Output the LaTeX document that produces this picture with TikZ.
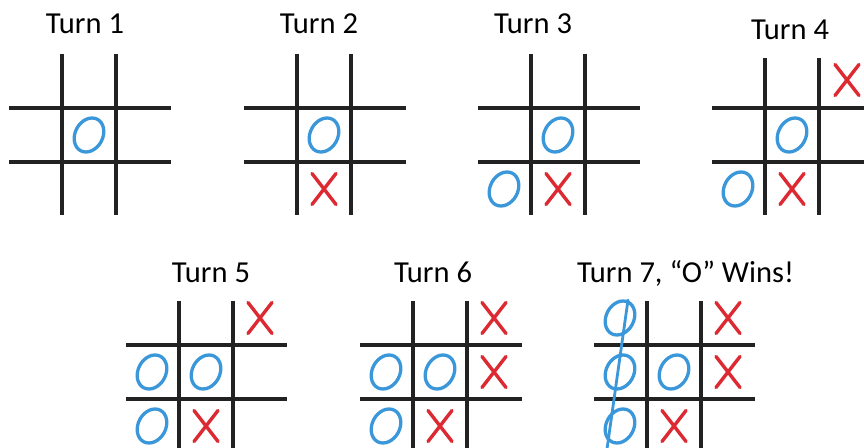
\documentclass[tikz,border=0pt]{standalone}
\usepackage{fontspec}
\setmainfont{Carlito}
\definecolor{oblue}{HTML}{3A97D9}
\definecolor{xred}{HTML}{DD2A32}
\definecolor{gridc}{HTML}{222222}
\tikzset{
  gridline/.style={draw=gridc, line width=3.2bp},
  omark/.style={draw=oblue, line width=3.3bp},
  xmark/.style={draw=xred, line width=3.4bp, line cap=round},
  winline/.style={draw=oblue, line width=2.8bp, line cap=round},
  title/.style={anchor=base, inner sep=0pt, font=\fontsize{30.5bp}{36bp}\selectfont, text=black},
}
% local cell centres: -27, 27, 81
\newcommand\tttO[2]{\draw[omark, shift={(#1,#2)}, xslant=0.18] (0,0) circle[x radius=14.5, y radius=17];}
\newcommand\tttX[2]{\draw[xmark] (#1-12,#2-15.5) -- (#1+12,#2+15.5) (#1-12,#2+15.5) -- (#1+12,#2-15.5);}
% grid: #1 top of vertical lines, #2 bottom of vertical lines, #3 right end of horizontals
\newcommand\tttGrid[3]{%
  \draw[gridline] (0,#1) -- (0,#2) (54,#1) -- (54,#2)
                  (-53,0) -- (#3,0) (-53,54) -- (#3,54);}
\begin{document}
\begin{tikzpicture}[x=1bp, y=-1bp]
\useasboundingbox (0,0) rectangle (864,448);
\fill[white] (0,0) rectangle (864,448);

% titles
\node[title] (t1) at (85,34) {Turn 1};
\node[title] (t2) at (319,34) {Turn 2};
\node[title] (t3) at (533,34) {Turn 3};
\node[title] (t4) at (790,40) {Turn 4};
\node[title] (t5) at (211,283) {Turn 5};
\node[title] (t6) at (433,283) {Turn 6};
\node[title] (t7) at (685.5,283) {Turn 7, “O” Wins!};

% Turn 1
\begin{scope}[shift={(62,108)}]
  \tttGrid{-54}{107}{109}
  \tttO{27}{27}
\end{scope}
% Turn 2
\begin{scope}[shift={(297,108)}]
  \tttGrid{-54}{107}{109}
  \tttO{27}{27}
  \tttX{27}{81}
\end{scope}
% Turn 3
\begin{scope}[shift={(531,108)}]
  \tttGrid{-54}{107}{109}
  \tttO{27}{27}
  \tttX{27}{81}
  \tttO{-27}{81}
\end{scope}
% Turn 4
\begin{scope}[shift={(765,108)}]
  \tttGrid{-50}{107}{109}
  \tttO{27}{27}
  \tttX{27}{81}
  \tttO{-27}{81}
  \tttX{82}{-28}
\end{scope}
% Turn 5
\begin{scope}[shift={(179,345)}]
  \tttGrid{-44}{110}{108}
  \tttX{81}{-27}
  \tttO{-27}{27}
  \tttO{27}{27}
  \tttO{-27}{81}
  \tttX{27}{81}
\end{scope}
% Turn 6
\begin{scope}[shift={(413,345)}]
  \tttGrid{-44}{110}{109}
  \tttX{81}{-27}
  \tttX{81}{27}
  \tttO{-27}{27}
  \tttO{27}{27}
  \tttO{-27}{81}
  \tttX{27}{81}
\end{scope}
% Turn 7
\begin{scope}[shift={(647,345)}]
  \tttGrid{-44}{110}{108}
  \tttX{81}{-27}
  \tttX{81}{27}
  \tttO{-27}{-27}
  \tttO{-27}{27}
  \tttO{27}{27}
  \tttO{-27}{81}
  \tttX{27}{81}
  \coordinate (w1) at (-19,-45);
  \coordinate (w2) at (-40,104);
  \draw[winline] (w1) -- (w2);
\end{scope}
\end{tikzpicture}
\end{document}
